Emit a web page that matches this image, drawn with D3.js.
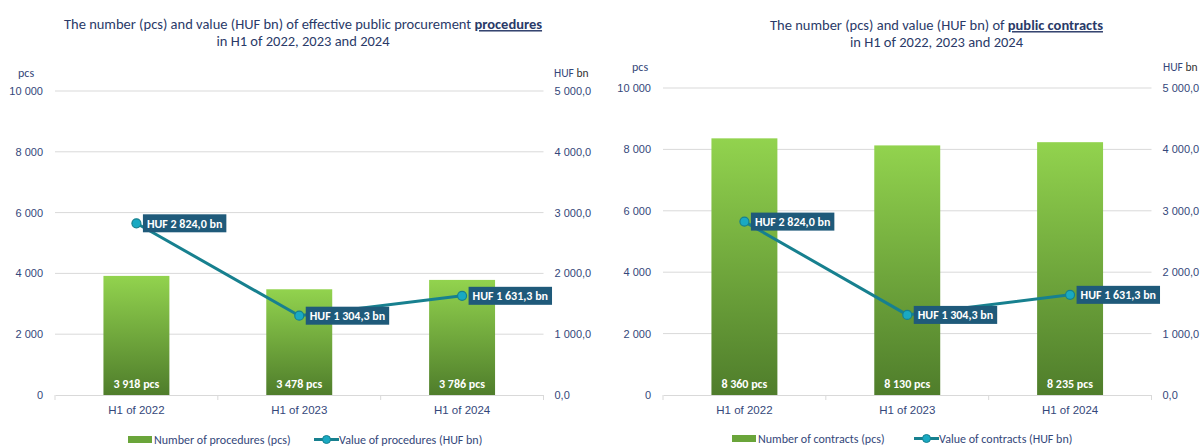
<!DOCTYPE html>
<html>
<head>
<meta charset="utf-8">
<script src="https://cdn.jsdelivr.net/npm/d3@7"></script>
<style>
  body { margin: 0; background: #fff; }
  svg { display: block; font-family: Carlito, Calibri, Lato, sans-serif; }
</style>
</head>
<body>
<svg id="chart" width="1200" height="447"></svg>
<script>
// data
const categories = ['H1 of 2022', 'H1 of 2023', 'H1 of 2024']
const procedureCounts = [3918, 3478, 3786]
const procedureValues = [2824.0, 1304.3, 1631.3]
const contractCounts = [8360, 8130, 8235]
const contractValues = [2824.0, 1304.3, 1631.3]
const countTicks = [0, 2000, 4000, 6000, 8000, 10000]
const valueTicks = [0, 1000, 2000, 3000, 4000, 5000]

const huLocale = d3.formatLocale({ decimal: ',', thousands: '\u00a0', grouping: [3], currency: ['', ''] })
const fmtCount = huLocale.format(',.0f')
const fmtValue = huLocale.format(',.1f')

const NAVY = '#34477a'
const TITLE = '#2a3a68'
const GRID = '#d9d9d9'
const LINE = '#17808f'
const MARKER = '#19a9c2'
const BOX = '#1f5a7a'

const svg = d3.select('#chart')

const grad = svg.append('defs').append('linearGradient')
  .attr('id', 'barGrad')
  .attr('x1', 0).attr('y1', 0).attr('x2', 0).attr('y2', 1)
grad.append('stop').attr('offset', '0%').attr('stop-color', '#92d34e')
grad.append('stop').attr('offset', '100%').attr('stop-color', '#4f7d2b')

/**
 * Draws one combo chart (bars on the left axis, line on the right axis).
 */
function drawChart (cfg, counts, values) {
  const g = svg.append('g')

  const x = d3.scaleBand().domain(categories).range([cfg.left, cfg.right])
  const yCount = d3.scaleLinear().domain([0, 10000]).range([cfg.bottom, cfg.top])
  const yValue = d3.scaleLinear().domain([0, 5000]).range([cfg.bottom, cfg.top])
  const barW = x.bandwidth() * 0.405
  const cx = d => x(d) + x.bandwidth() / 2

  // title
  const t1 = g.append('text')
    .attr('x', cfg.titleX).attr('y', cfg.titleY[0]).attr('dy', '0.35em')
    .attr('text-anchor', 'middle').attr('font-size', 14.5).attr('fill', TITLE)
  t1.append('tspan').text(cfg.title)
  t1.append('tspan').text(cfg.titleBold)
    .attr('font-weight', 'bold').style('text-decoration', 'underline')
  g.append('text')
    .attr('x', cfg.titleX).attr('y', cfg.titleY[1]).attr('dy', '0.35em')
    .attr('text-anchor', 'middle').attr('font-size', 14.5).attr('fill', TITLE)
    .text('in H1 of 2022, 2023 and 2024')

  // unit labels
  g.append('text')
    .attr('x', cfg.pcsX).attr('y', cfg.unitY).attr('dy', '0.35em')
    .attr('font-size', 12).attr('fill', NAVY).text('pcs')
  const huf = g.append('text')
    .attr('x', cfg.hufX).attr('y', cfg.unitY).attr('dy', '0.35em')
    .attr('font-size', 11.5).attr('fill', NAVY)
  huf.append('tspan').text('HUF ')
  huf.append('tspan').attr('fill', '#333').text('bn')

  // gridlines
  g.append('g')
    .selectAll('line')
    .data(countTicks.slice(1))
    .join('line')
    .attr('x1', cfg.left).attr('x2', cfg.right)
    .attr('y1', d => yCount(d)).attr('y2', d => yCount(d))
    .attr('stroke', GRID).attr('stroke-width', 1)

  // axes
  g.append('g')
    .attr('transform', `translate(${cfg.left},0)`)
    .call(d3.axisLeft(yCount).tickValues(countTicks).tickFormat(fmtCount).tickSize(0).tickPadding(12))
    .call(a => a.select('.domain').remove())
    .call(a => a.selectAll('text').attr('fill', NAVY).attr('font-size', 11).attr('font-family', null))

  g.append('g')
    .attr('transform', `translate(${cfg.right},0)`)
    .call(d3.axisRight(yValue).tickValues(valueTicks).tickFormat(fmtValue).tickSize(0).tickPadding(11))
    .call(a => a.select('.domain').remove())
    .call(a => a.selectAll('text').attr('fill', NAVY).attr('font-size', 11).attr('font-family', null))

  const xAxis = g.append('g')
    .attr('transform', `translate(0,${cfg.bottom})`)
    .call(d3.axisBottom(x).tickSize(0).tickPadding(11))
  xAxis.select('.domain').attr('stroke', GRID)
  xAxis.selectAll('text').attr('fill', NAVY).attr('font-size', 11.5).attr('font-family', null)
  xAxis.append('g')
    .selectAll('line')
    .data(categories.map(c => x(c)).concat([cfg.right]))
    .join('line')
    .attr('x1', d => d).attr('x2', d => d)
    .attr('y1', 0).attr('y2', 5)
    .attr('stroke', GRID)

  // bars
  g.append('g')
    .selectAll('rect')
    .data(counts)
    .join('rect')
    .attr('x', (d, i) => cx(categories[i]) - barW / 2)
    .attr('y', d => yCount(d))
    .attr('width', barW)
    .attr('height', d => cfg.bottom - yCount(d))
    .attr('fill', 'url(#barGrad)')

  g.append('g')
    .selectAll('text')
    .data(counts)
    .join('text')
    .attr('x', (d, i) => cx(categories[i]))
    .attr('y', cfg.bottom - 11)
    .attr('dy', '0.35em')
    .attr('text-anchor', 'middle')
    .attr('font-size', 12).attr('font-weight', 'bold').attr('fill', '#fff')
    .text(d => fmtCount(d) + ' pcs')

  // line
  const line = d3.line()
    .x((d, i) => cx(categories[i]))
    .y(d => yValue(d))
  g.append('path')
    .datum(values)
    .attr('d', line)
    .attr('fill', 'none').attr('stroke', LINE).attr('stroke-width', 3)

  g.append('g')
    .selectAll('circle')
    .data(values)
    .join('circle')
    .attr('cx', (d, i) => cx(categories[i]))
    .attr('cy', d => yValue(d))
    .attr('r', 4.5)
    .attr('fill', MARKER).attr('stroke', LINE).attr('stroke-width', 1.2)

  // value labels in dark boxes
  const labels = g.append('g')
    .selectAll('g')
    .data(values)
    .join('g')
    .attr('transform', (d, i) => `translate(${cx(categories[i]) + 6.5},${yValue(d)})`)
  const boxes = labels.append('rect').attr('fill', BOX)
  const texts = labels.append('text')
    .attr('x', 4).attr('dy', '0.35em')
    .attr('font-size', 12).attr('font-weight', 'bold').attr('fill', '#fff')
    .text(d => 'HUF ' + fmtValue(d) + ' bn')
  texts.each(function (d, i) {
    const w = this.getComputedTextLength()
    d3.select(boxes.nodes()[i])
      .attr('x', 0).attr('y', -9).attr('width', w + 8).attr('height', 18)
  })

  // legend
  const lg = g.append('g').attr('transform', `translate(0,${cfg.legend.y})`)
  lg.append('rect')
    .attr('x', cfg.legend.barX).attr('y', -3.5).attr('width', 24).attr('height', 7)
    .attr('fill', '#6aa53a')
  lg.append('text')
    .attr('x', cfg.legend.barX + 26).attr('dy', '0.35em')
    .attr('font-size', 12).attr('fill', NAVY).text(cfg.legendBar)
  lg.append('line')
    .attr('x1', cfg.legend.lineX).attr('x2', cfg.legend.lineX + 25)
    .attr('stroke', LINE).attr('stroke-width', 3)
  lg.append('circle')
    .attr('cx', cfg.legend.lineX + 12.5).attr('r', 4)
    .attr('fill', MARKER).attr('stroke', LINE)
  lg.append('text')
    .attr('x', cfg.legend.lineX + 25).attr('dy', '0.35em')
    .attr('font-size', 12).attr('fill', NAVY).text(cfg.legendLine)
}

drawChart({
  left: 55, right: 543.5, top: 91, bottom: 395,
  titleX: 303, titleY: [24, 41],
  title: 'The number (pcs) and value (HUF bn) of effective public procurement ',
  titleBold: 'procedures',
  pcsX: 18, hufX: 554, unitY: 72.5,
  legend: { y: 439.5, barX: 128, lineX: 314 },
  legendBar: 'Number of procedures (pcs)',
  legendLine: 'Value of procedures (HUF bn)'
}, procedureCounts, procedureValues)

drawChart({
  left: 663, right: 1151.5, top: 88, bottom: 395,
  titleX: 936.5, titleY: [25, 41.5],
  title: 'The number (pcs) and value (HUF bn) of ',
  titleBold: 'public contracts',
  pcsX: 632, hufX: 1163, unitY: 67,
  legend: { y: 438.5, barX: 732, lineX: 914 },
  legendBar: 'Number of contracts (pcs)',
  legendLine: 'Value of contracts (HUF bn)'
}, contractCounts, contractValues)
</script>
</body>
</html>
